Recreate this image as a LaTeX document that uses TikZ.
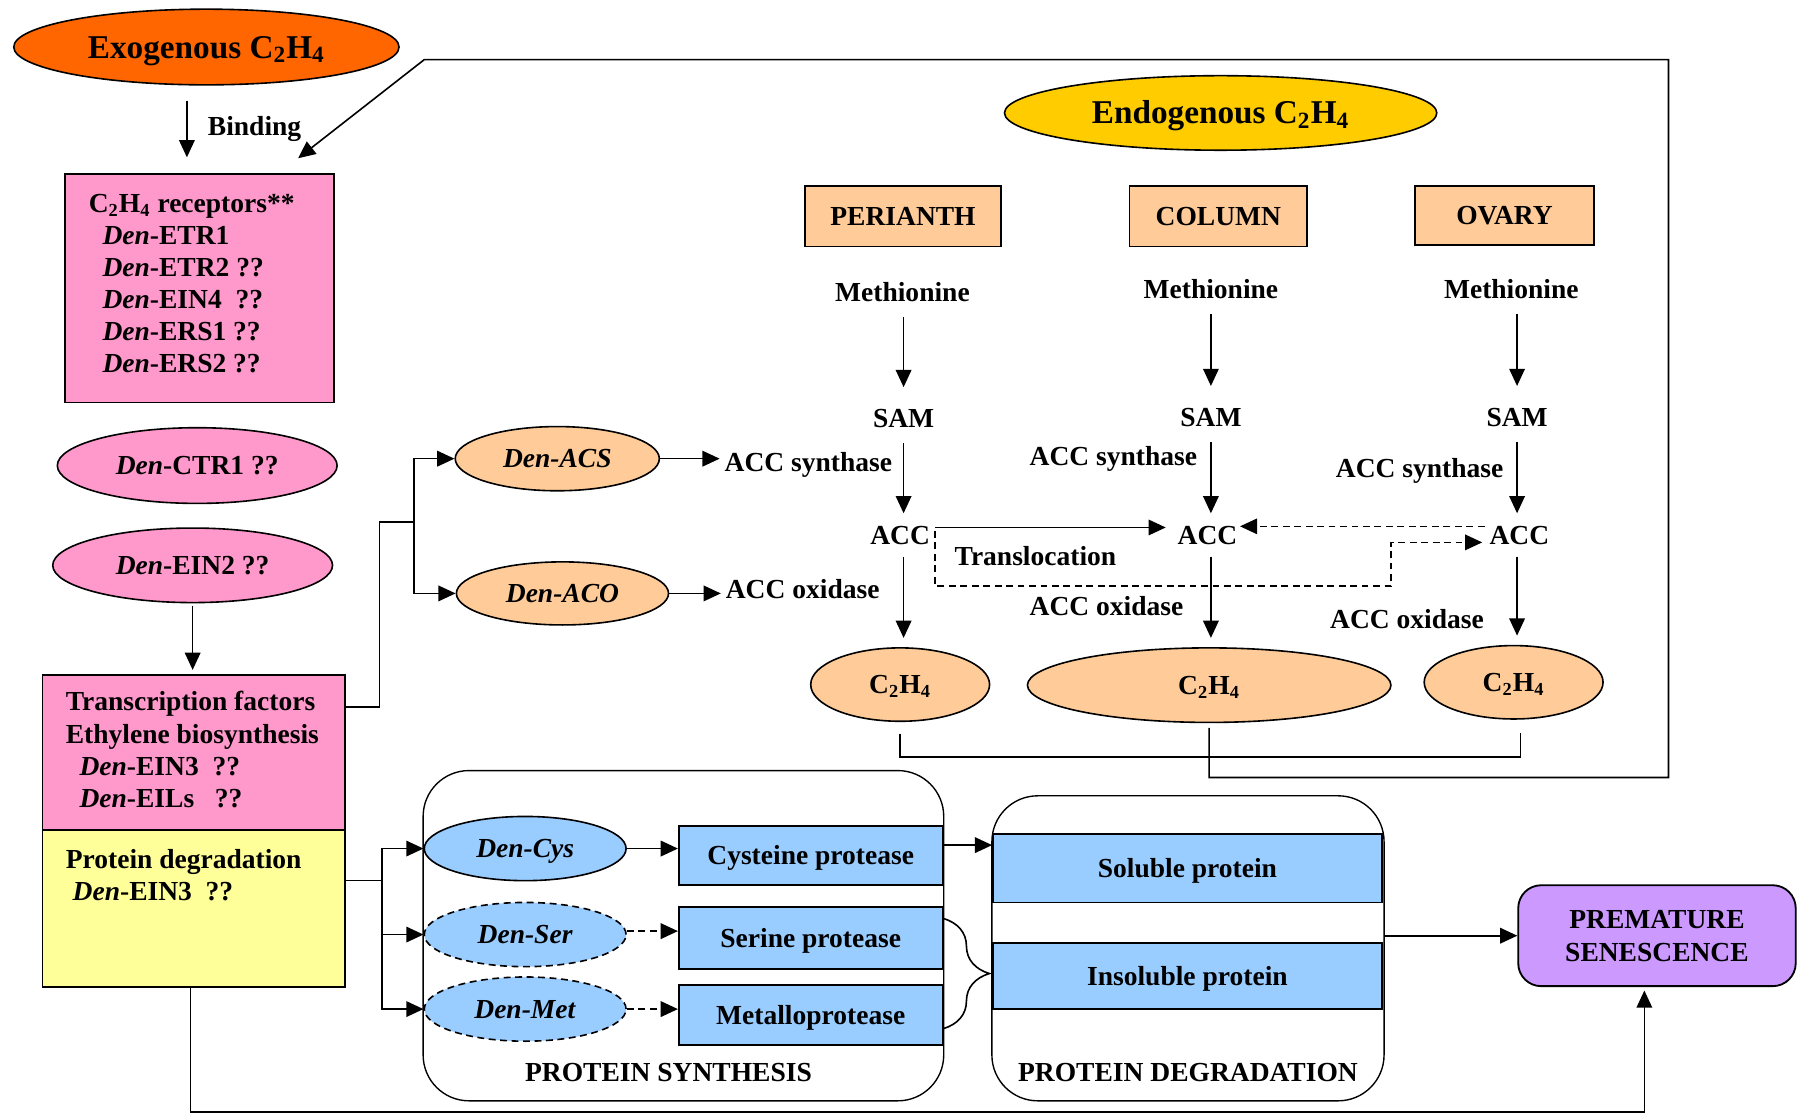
\documentclass[tikz,border=0pt]{standalone}
\usepackage{fontspec}
\setmainfont{Liberation Serif}
\usetikzlibrary{arrows.meta,shapes.geometric,decorations.pathreplacing}
\definecolor{exoc}{HTML}{FF6600}
\definecolor{endc}{HTML}{FFCC00}
\definecolor{pinkc}{HTML}{FF99CC}
\definecolor{yelc}{HTML}{FFFF99}
\definecolor{orc}{HTML}{FFCC99}
\definecolor{bluc}{HTML}{99CCFF}
\definecolor{vioc}{HTML}{CC99FF}
\newcommand{\ethy}{C\textsubscript{2}H\textsubscript{4}}
\newcommand{\Dn}{\textit{Den}}
\begin{document}
\begin{tikzpicture}[x=0.5pt,y=-0.5pt,
  every node/.style={font=\fontsize{12}{14.5}\selectfont\bfseries},
  th/.style={text height=9.5pt, text depth=1.5pt},
  ell/.style={ellipse, draw, line width=0.7pt, inner sep=0pt, th},
  bx/.style={rectangle, draw, line width=0.8pt, inner sep=0pt, th},
  lbl/.style={inner sep=2pt, th},
  big/.style={font=\fontsize{14.5}{16}\selectfont\bfseries, text height=11pt, text depth=1.4pt},
  arr/.style={draw, line width=0.7pt, -{Triangle[length=7.5pt,width=6.8pt]}},
  ln/.style={draw, line width=0.7pt},
  dsh/.style={dash pattern=on 3pt off 2pt}
]
\useasboundingbox (0,0) rectangle (1568,974);

% ---------- left column ----------
\node[ell, fill=exoc, minimum width=168pt, minimum height=33pt, big] (exo) at (180,41) {Exogenous \ethy};
\node[lbl] (bind) at (222,110) {Binding};
\node[bx, fill=pinkc, minimum width=117pt, minimum height=99.5pt] (rec) at (174,251.5) {};
\node[lbl, anchor=west] (r0) at (73,177) {\ethy\ receptors**};
\node[lbl, anchor=west] (r1) at (85,205) {\Dn-ETR1};
\node[lbl, anchor=west] (r2) at (85,233) {\Dn-ETR2 ??};
\node[lbl, anchor=west] (r3) at (85,261) {\Dn-EIN4~~??};
\node[lbl, anchor=west] (r4) at (85,289) {\Dn-ERS1 ??};
\node[lbl, anchor=west] (r5) at (85,317) {\Dn-ERS2 ??};
\node[ell, fill=pinkc, minimum width=122pt, minimum height=33pt] (ctr) at (172,406) {\Dn-CTR1 ??};
\node[ell, fill=pinkc, minimum width=122pt, minimum height=32.5pt] (ein2) at (168,493) {\Dn-EIN2 ??};
\node[bx, fill=pinkc, minimum width=132pt, minimum height=67.5pt] (trans) at (169,656.5) {};
\node[lbl, anchor=west] (t1) at (53,612) {Transcription factors};
\node[lbl, anchor=west] (t2) at (53,640) {Ethylene biosynthesis};
\node[lbl, anchor=west] (t3) at (65,668) {\Dn-EIN3~~??};
\node[lbl, anchor=west] (t4) at (65,696) {\Dn-EILs~~~??};
\node[bx, fill=yelc, minimum width=132pt, minimum height=68.5pt] (protd) at (169,792.5) {};
\node[lbl, anchor=west] (p1) at (53,749) {Protein degradation};
\node[lbl, anchor=west] (p2) at (59,777) {\Dn-EIN3~~??};

% ---------- enzymes ----------
\node[ell, fill=orc, minimum width=89pt, minimum height=28pt] (acs) at (486,400) {\textit{Den-ACS}};
\node[ell, fill=orc, minimum width=92.5pt, minimum height=27.5pt] (aco) at (490.5,517.5) {\textit{Den-ACO}};
\node[lbl] (asP) at (705,403) {ACC synthase};
\node[lbl] (aoP) at (700,514) {ACC oxidase};

% ---------- endogenous part ----------
\node[ell, fill=endc, minimum width=188.5pt, minimum height=32.5pt, big] (endo) at (1064.5,98.5) {Endogenous \ethy};
\node[bx, fill=orc, minimum width=85.5pt, minimum height=26.5pt] (per) at (787.5,188.5) {PERIANTH};
\node[bx, fill=orc, minimum width=77.5pt, minimum height=26.5pt] (col) at (1062.5,188.5) {COLUMN};
\node[bx, fill=orc, minimum width=78pt, minimum height=26pt] (ova) at (1312,188) {OVARY};

\node[lbl] (methP) at (787,255) {Methionine};
\node[lbl] (methC) at (1056,252) {Methionine};
\node[lbl] (methO) at (1318,252) {Methionine};
\node[lbl] (samP) at (788,365) {SAM};
\node[lbl] (samC) at (1056,364) {SAM};
\node[lbl] (samO) at (1323,364) {SAM};
\node[lbl] (accP) at (785,467) {ACC};
\node[lbl] (accC) at (1053,467) {ACC};
\node[lbl] (accO) at (1325,467) {ACC};
\node[lbl] (asC) at (971,398) {ACC synthase};
\node[lbl] (asO) at (1238,408) {ACC synthase};
\node[lbl] (aoC) at (965,529) {ACC oxidase};
\node[lbl] (aoO) at (1227,540) {ACC oxidase};
\node[lbl] (trl) at (903,485) {Translocation};
\node[ell, fill=orc, minimum width=78pt, minimum height=32pt] (c2P) at (785,597) {\ethy};
\node[ell, fill=orc, minimum width=158.5pt, minimum height=32.5pt] (c2C) at (1054.5,597.5) {\ethy};
\node[ell, fill=orc, minimum width=78pt, minimum height=32pt] (c2O) at (1320,595) {\ethy};

% ---------- protein synthesis / degradation ----------
\node[draw, rounded corners=20pt, line width=0.6pt, minimum width=227pt, minimum height=144pt, inner sep=0pt] (psyn) at (596,816) {};
\node[draw, rounded corners=20pt, line width=0.6pt, minimum width=171pt, minimum height=133pt, inner sep=0pt] (pdeg) at (1036,827) {};
\node[lbl] (psynl) at (583,935) {PROTEIN SYNTHESIS};
\node[lbl] (pdegl) at (1036,935) {PROTEIN DEGRADATION};
\node[ell, fill=bluc, minimum width=88pt, minimum height=28pt] (cys) at (458,740) {\textit{Den-Cys}};
\node[ell, fill=bluc, dsh, minimum width=88pt, minimum height=28pt] (ser) at (458,815) {\textit{Den-Ser}};
\node[ell, fill=bluc, dsh, minimum width=88pt, minimum height=28pt] (met) at (458,880) {\textit{Den-Met}};
\node[bx, fill=bluc, minimum width=115pt, minimum height=26pt] (cysb) at (707,746) {Cysteine protease};
\node[bx, fill=bluc, minimum width=115pt, minimum height=27pt] (serb) at (707,818) {Serine protease};
\node[bx, fill=bluc, minimum width=115pt, minimum height=26pt] (metb) at (707,885) {Metalloprotease};
\node[bx, fill=bluc, minimum width=169.5pt, minimum height=30pt] (sol) at (1035.5,757) {Soluble protein};
\node[bx, fill=bluc, minimum width=169.5pt, minimum height=29pt] (insol) at (1035.5,851) {Insoluble protein};
\node[draw, fill=vioc, rounded corners=10pt, line width=0.8pt, minimum width=121pt, minimum height=44pt, inner sep=0pt, align=center] (prem) at (1445,816) {PREMATURE\\SENESCENCE};

% ---------- coordinates ----------
\coordinate (k1) at (1455,678);
\coordinate (k2) at (1455,52);
\coordinate (k3) at (370,52);
\coordinate (k4) at (260,138);
\coordinate (m2) at (1326,660);
\coordinate (m3) at (1326,639);
\coordinate (j1) at (331,455);
\coordinate (j2) at (361,455);
\coordinate (j3) at (333,768);
\coordinate (d1) at (1213,511);
\coordinate (b1) at (1434,970);

% ---------- connectors ----------
\draw[arr] ([xshift=-8.5pt,yshift=-6.5pt]exo.south) -- ([xshift=-5.5pt,yshift=7pt]rec.north);
\draw[arr] ([yshift=-2pt]c2C.south) |- (k1) -- (k2) -- (k3) -- (k4);
\draw[ln] ([yshift=-5pt]c2P.south) |- (m2) -- (m3);
\draw[arr, shorten <=1pt, shorten >=2pt] (ein2.south) -- (ein2.south |- trans.north);
\draw[ln] ([yshift=20pt]trans.east) -| (j1) -- (j2);
\draw[arr] (j2) |- (acs.west);
\draw[arr] (j2) |- (aco.west);
\draw[arr] (acs.east) -- (acs.east -| asP.west);
\draw[arr] (aco.east) -- (aco.east -| aoP.west);

\draw[arr, shorten <=3pt, shorten >=6pt] (samP |- methP.south) -- (samP.north);
\draw[arr, shorten <=3pt, shorten >=2pt] (samP.south) -- (samP |- accP.north);
\draw[arr, shorten <=1.5pt, shorten >=4pt] (samP |- accP.south) -- (samP |- c2P.north);
\draw[arr, shorten <=3pt, shorten >=6pt] (samC |- methC.south) -- (samC.north);
\draw[arr, shorten <=3pt, shorten >=2pt] (samC.south) -- (samC |- accC.north);
\draw[arr, shorten <=1.5pt, shorten >=4pt] (samC |- accC.south) -- (samC |- c2C.north);
\draw[arr, shorten <=3pt, shorten >=6pt] (samO |- methO.south) -- (samO.north);
\draw[arr, shorten <=3pt, shorten >=2pt] (samO.south) -- (samO |- accO.north);
\draw[arr, shorten <=1.5pt, shorten >=4pt] (samO |- accO.south) -- (samO |- c2O.north);

\draw[arr, shorten >=3pt] ([yshift=3.5pt]accP.east) -- ([yshift=3.5pt]accC.west);
\draw[arr, dsh, shorten >=1pt] ([yshift=2pt]accP.east) |- (d1) |- ([yshift=-3pt]accO.west);
\draw[arr, dsh, shorten >=-1pt] ([yshift=4pt]accO.west) -- ([yshift=4pt]accC.east);

\draw[ln] ([yshift=12.25pt]protd.east) -- (j3);
\draw[arr] (j3) |- (cys.west);
\draw[arr] (j3) |- (ser.west);
\draw[arr] (j3) |- (met.west);
\draw[arr] (cys.east) -- (cys.east -| cysb.west);
\draw[arr, dsh] ([yshift=1.5pt]ser.east) -- ([yshift=1.5pt]ser.east -| serb.west);
\draw[arr, dsh] (met.east) -- (met.east -| metb.west);
\draw[arr] ([yshift=4.5pt]cysb.east) -- ([yshift=4.5pt]cysb.east -| sol.west);
\draw[ln, decorate, decoration={brace, amplitude=20pt}] ([yshift=8.5pt]serb.east) -- ([yshift=-6pt]metb.east);
\draw[arr] (pdeg.east |- prem.west) -- (prem.west);
\draw[arr, shorten >=1.5pt] ([xshift=-1.5pt]protd.south) |- (b1) -- (b1 |- prem.south);
\end{tikzpicture}
\end{document}
